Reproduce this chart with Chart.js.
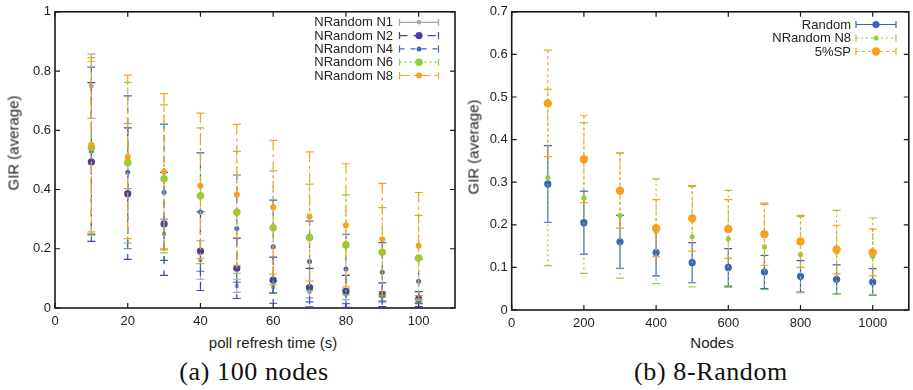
<!DOCTYPE html>
<html>
<head>
<meta charset="utf-8">
<script src="https://cdn.jsdelivr.net/npm/chart.js@4.4.1/dist/chart.umd.min.js"></script>
<style>
  body { margin: 0; background: #fff; width: 913px; height: 390px; position: relative; overflow: hidden;
         font-family: 'Liberation Sans', Arial, sans-serif; color: #222; }
  canvas { position: absolute; top: 0; }
  .lbl { position: absolute; white-space: nowrap; transform: translate(-50%, -50%); font-size: 15px; }
  .rot { transform: translate(-50%, -50%) rotate(-90deg); }
  .cap { font-family: 'Liberation Serif', serif; font-size: 26px; letter-spacing: 0.6px; color: #111; }
</style>
</head>
<body>
<canvas id="left" width="460" height="330" style="left:0"></canvas>
<canvas id="right" width="453" height="330" style="left:460px"></canvas>

<div class="lbl rot" style="left:13px; top:143px">GIR (average)</div>
<div class="lbl" style="left:273px; top:342px">poll refresh time (s)</div>
<div class="lbl cap" style="left:254px; top:372px">(a) 100 nodes</div>

<div class="lbl rot" style="left:473px; top:147px">GIR (average)</div>
<div class="lbl" style="left:712px; top:342px">Nodes</div>
<div class="lbl cap" style="left:711px; top:372px">(b) 8-Random</div>

<script>
// (a) 100 nodes: mean GIR and error per poll refresh time
const pollTimes = [10, 20, 30, 40, 50, 60, 70, 80, 90, 100];
const n1Mean = [0.749, 0.513, 0.25, 0.162, 0.075, 0.071, 0.054, 0.046, 0.04, 0.03];
const n1Err  = [0.108, 0.11, 0.05, 0.065, 0.022, 0.02, 0.02, 0.018, 0.015, 0.012];
const n2Mean = [0.493, 0.386, 0.284, 0.192, 0.134, 0.094, 0.069, 0.056, 0.045, 0.03];
const n2Err  = [0.268, 0.222, 0.174, 0.133, 0.102, 0.078, 0.065, 0.054, 0.04, 0.025];
const n4Mean = [0.53, 0.458, 0.391, 0.324, 0.268, 0.207, 0.157, 0.132, 0.121, 0.09];
const n4Err  = [0.283, 0.258, 0.23, 0.2, 0.181, 0.157, 0.136, 0.117, 0.1, 0.075];
const n6Mean = [0.542, 0.491, 0.436, 0.379, 0.323, 0.271, 0.238, 0.213, 0.188, 0.169];
const n6Err  = [0.291, 0.271, 0.25, 0.229, 0.206, 0.192, 0.18, 0.169, 0.151, 0.144];
const n8Mean = [0.551, 0.51, 0.46, 0.413, 0.382, 0.34, 0.309, 0.279, 0.232, 0.21];
const n8Err  = [0.294, 0.276, 0.264, 0.245, 0.238, 0.226, 0.218, 0.208, 0.189, 0.18];
const leftLabels = ['NRandom N1', 'NRandom N2', 'NRandom N4', 'NRandom N6', 'NRandom N8'];
const leftXTicks = [0, 20, 40, 60, 80, 100];
const leftYTicks = [0, 0.2, 0.4, 0.6, 0.8, 1];

// (b) 8-Random: mean GIR and error per network size
const nodeCounts = [100, 200, 300, 400, 500, 600, 700, 800, 900, 1000];
const randomMean = [0.296, 0.205, 0.16, 0.135, 0.111, 0.1, 0.089, 0.079, 0.072, 0.066];
const randomErr  = [0.09, 0.074, 0.062, 0.055, 0.047, 0.044, 0.039, 0.037, 0.034, 0.031];
const nr8Mean = [0.311, 0.263, 0.222, 0.185, 0.172, 0.167, 0.148, 0.13, 0.136, 0.126];
const nr8Err  = [0.207, 0.177, 0.147, 0.123, 0.118, 0.114, 0.1, 0.089, 0.098, 0.09];
const spMean = [0.485, 0.354, 0.28, 0.192, 0.215, 0.19, 0.178, 0.161, 0.142, 0.135];
const spErr  = [0.125, 0.102, 0.088, 0.067, 0.077, 0.069, 0.073, 0.061, 0.057, 0.055];
const rightLabels = ['Random', 'NRandom N8', '5%SP'];
const rightXTicks = [0, 200, 400, 600, 800, 1000];
const rightYTicks = [0, 0.1, 0.2, 0.3, 0.4, 0.5, 0.6, 0.7];

const FONT = { family: "'Liberation Sans', Arial, sans-serif", size: 13 };

function series(label, xs, mean, err, color, radius, dash, order) {
    return {
        label: label,
        data: xs.map((x, i) => ({ x: x, y: mean[i] })),
        err: err,
        dash: dash,
        borderColor: color,
        backgroundColor: color,
        pointBackgroundColor: color,
        pointBorderWidth: 0,
        pointRadius: radius,
        pointHoverRadius: radius,
        showLine: false,
        order: order
    };
}

// vertical error bars with caps, drawn just before each dataset's points
const errorBars = {
    id: 'errorBars',
    beforeDatasetDraw(chart, args) {
        const ds = chart.data.datasets[args.index];
        const { ctx, scales: { x, y } } = chart;
        ctx.save();
        ctx.strokeStyle = ds.borderColor;
        ctx.lineWidth = 1.2;
        ds.data.forEach((p, i) => {
            const px = x.getPixelForValue(p.x);
            const top = y.getPixelForValue(p.y + ds.err[i]);
            const bot = y.getPixelForValue(p.y - ds.err[i]);
            ctx.setLineDash(ds.dash);
            ctx.beginPath();
            ctx.moveTo(px, top);
            ctx.lineTo(px, bot);
            ctx.stroke();
            ctx.setLineDash([]);
            ctx.beginPath();
            ctx.moveTo(px - 4, top); ctx.lineTo(px + 4, top);
            ctx.moveTo(px - 4, bot); ctx.lineTo(px + 4, bot);
            ctx.stroke();
        });
        ctx.restore();
    }
};

// gnuplot style box with inward ticks on all four sides
const frame = {
    id: 'frame',
    beforeDatasetsDraw(chart) {
        const { ctx, chartArea: a, scales: { x, y } } = chart;
        ctx.save();
        ctx.strokeStyle = '#1a1a1a';
        ctx.lineWidth = 1.2;
        ctx.beginPath();
        x.ticks.forEach(t => {
            const px = x.getPixelForValue(t.value);
            ctx.moveTo(px, a.bottom); ctx.lineTo(px, a.bottom - 5);
            ctx.moveTo(px, a.top); ctx.lineTo(px, a.top + 5);
        });
        y.ticks.forEach(t => {
            const py = y.getPixelForValue(t.value);
            ctx.moveTo(a.left, py); ctx.lineTo(a.left + 5, py);
            ctx.moveTo(a.right, py); ctx.lineTo(a.right - 5, py);
        });
        ctx.stroke();
        ctx.lineWidth = 1.6;
        ctx.strokeRect(a.left, a.top, a.right - a.left, a.bottom - a.top);
        ctx.restore();
    }
};

// key in the top right corner: text, then a sample bar with the marker
const keyBox = {
    id: 'keyBox',
    afterDatasetsDraw(chart, args, opts) {
        const ctx = chart.ctx;
        ctx.save();
        ctx.font = FONT.size + 'px ' + FONT.family;
        ctx.fillStyle = '#222';
        ctx.textAlign = 'right';
        ctx.textBaseline = 'middle';
        chart.data.datasets.forEach((ds, i) => {
            const y = opts.top + i * opts.step;
            ctx.fillText(ds.label, opts.textRight, y + 0.5);
            const x0 = opts.sampleLeft, x1 = opts.sampleLeft + opts.sampleLen;
            ctx.strokeStyle = ds.borderColor;
            ctx.lineWidth = 1.2;
            ctx.setLineDash(ds.dash);
            ctx.beginPath();
            ctx.moveTo(x0, y); ctx.lineTo(x1, y);
            ctx.stroke();
            ctx.setLineDash([]);
            ctx.beginPath();
            ctx.moveTo(x0, y - 3.5); ctx.lineTo(x0, y + 3.5);
            ctx.moveTo(x1, y - 3.5); ctx.lineTo(x1, y + 3.5);
            ctx.stroke();
            ctx.fillStyle = ds.borderColor;
            ctx.beginPath();
            ctx.arc((x0 + x1) / 2, y, ds.pointRadius, 0, Math.PI * 2);
            ctx.fill();
            ctx.fillStyle = '#222';
        });
        ctx.restore();
    }
};

function axis(min, max, ticks, size, pad, isX) {
    return {
        type: 'linear',
        min: min,
        max: max,
        grid: { display: false, drawTicks: false },
        border: { display: false },
        afterBuildTicks: s => { s.ticks = ticks.map(v => ({ value: v })); },
        afterFit: s => { if (isX) s.height = size; else s.width = size; },
        ticks: {
            padding: pad,
            font: FONT,
            color: '#222',
            maxRotation: 0,
            autoSkip: false,
            callback: v => String(v)
        }
    };
}

function makeChart(id, datasets, xs, ys, layout, key) {
    new Chart(document.getElementById(id), {
        type: 'scatter',
        data: { datasets: datasets },
        options: {
            responsive: false,
            animation: false,
            events: [],
            layout: { padding: layout.padding },
            scales: {
                x: axis(0, xs.max, xs.ticks, layout.xHeight, 6, true),
                y: axis(0, ys.max, ys.ticks, layout.yWidth, 4, false)
            },
            plugins: {
                legend: { display: false },
                tooltip: { enabled: false },
                keyBox: key
            }
        },
        plugins: [errorBars, frame, keyBox]
    });
}

makeChart('left', [
    series(leftLabels[0], pollTimes, n1Mean, n1Err, '#a6a6a6', 2.3, [], 4),
    series(leftLabels[1], pollTimes, n2Mean, n2Err, '#4b3f9e', 3.6, [8, 6], 3),
    series(leftLabels[2], pollTimes, n4Mean, n4Err, '#3f66c4', 2.5, [5, 6], 2),
    series(leftLabels[3], pollTimes, n6Mean, n6Err, '#8fd03c', 3.8, [2, 3], 1),
    series(leftLabels[4], pollTimes, n8Mean, n8Err, '#f8a020', 3, [10, 4, 3, 4], 0)
], { max: 110, ticks: leftXTicks }, { max: 1, ticks: leftYTicks },
   { padding: { top: 8, right: 5, left: 0, bottom: 0 }, xHeight: 22, yWidth: 55 },
   { textRight: 393, top: 22.3, step: 13.3, sampleLeft: 399.5, sampleLen: 39 });

makeChart('right', [
    series(rightLabels[0], nodeCounts, randomMean, randomErr, '#3d62bd', 3.6, [], 2),
    series(rightLabels[1], nodeCounts, nr8Mean, nr8Err, '#8fd03c', 2.6, [2, 3], 1),
    series(rightLabels[2], nodeCounts, spMean, spErr, '#f8a020', 4.2, [3, 3], 0)
], { max: 1100, ticks: rightXTicks }, { max: 0.7, ticks: rightYTicks },
   { padding: { top: 10.7, right: 1.7, left: 0, bottom: 0 }, xHeight: 20, yWidth: 51.7 },
   { textRight: 391, top: 24.5, step: 13.5, sampleLeft: 396, sampleLen: 40 });
</script>
</body>
</html>
